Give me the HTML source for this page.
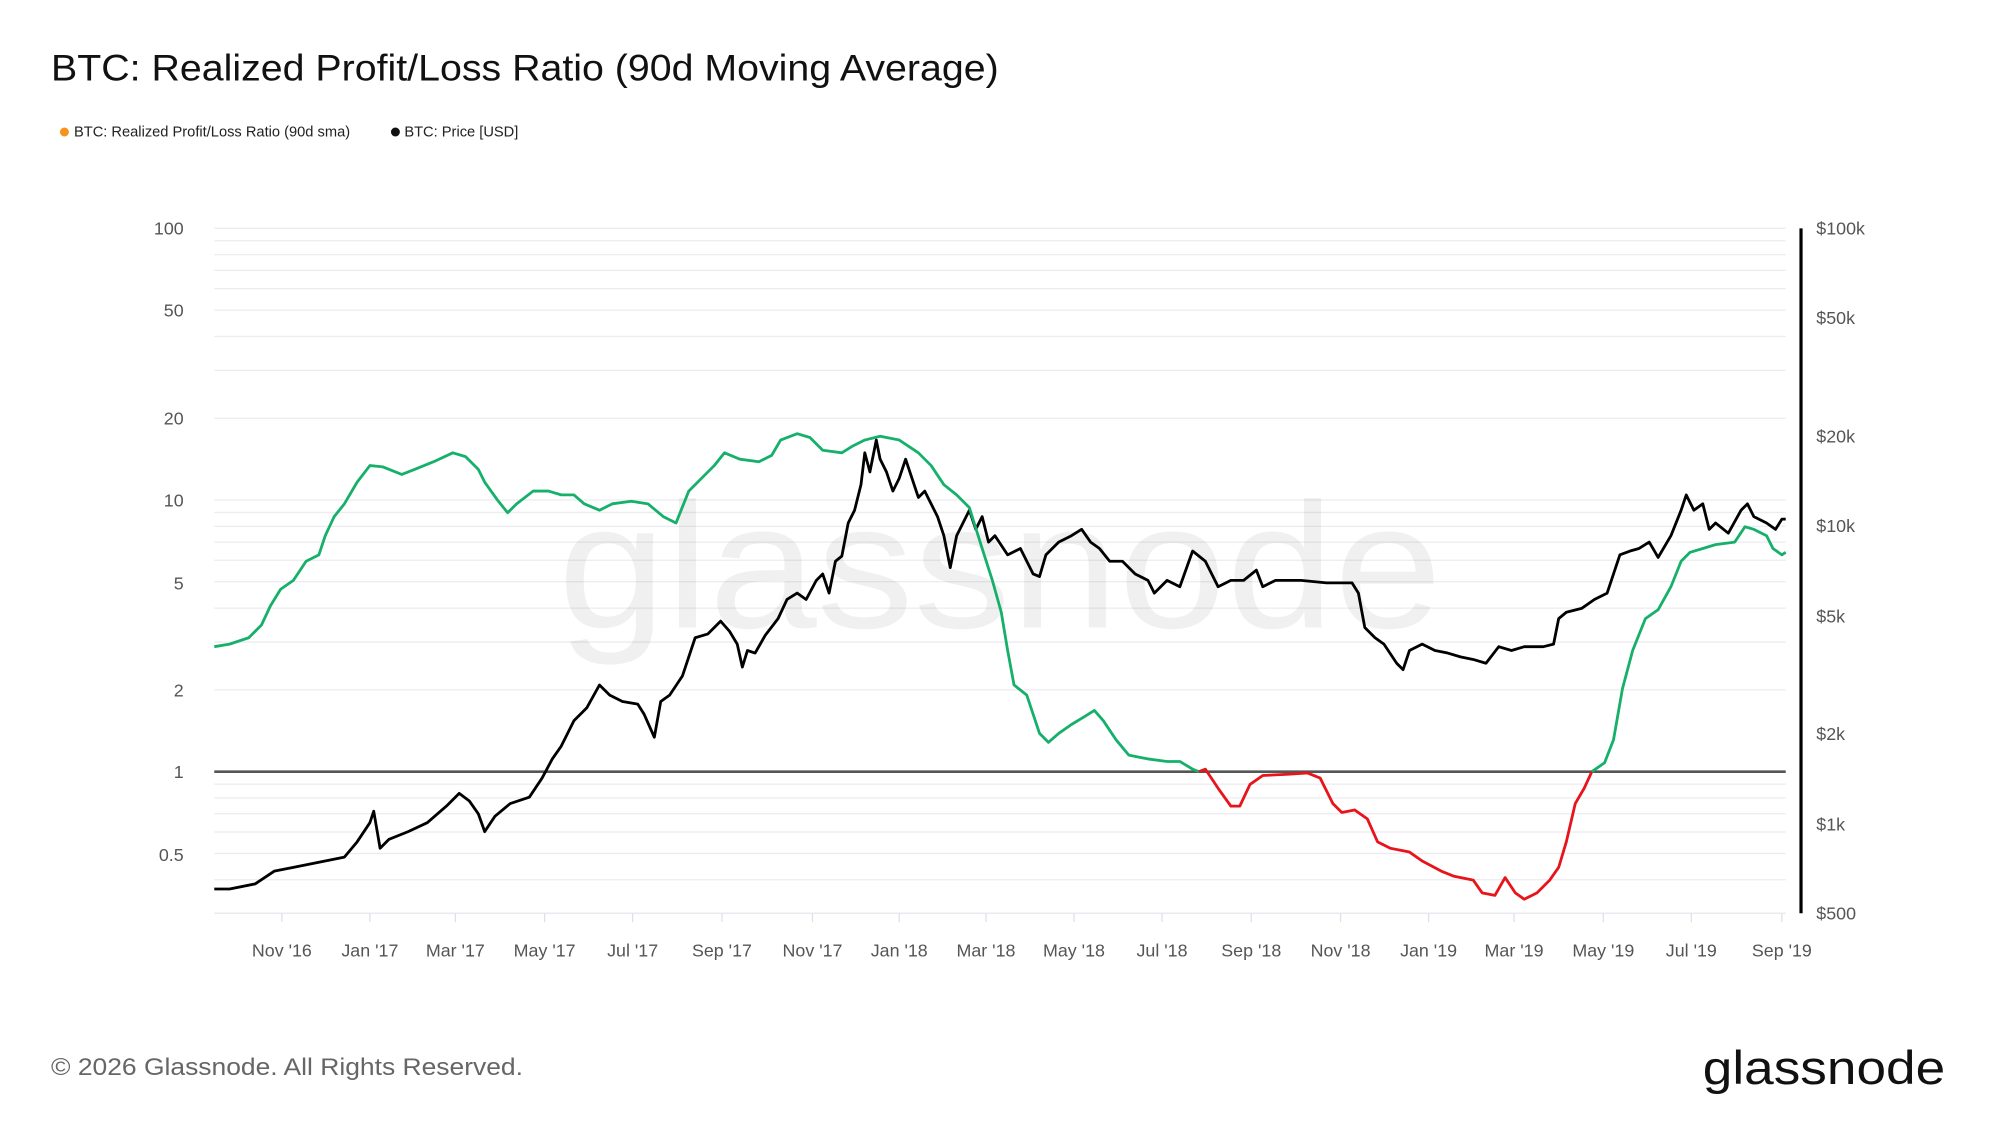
<!DOCTYPE html>
<html><head><meta charset="utf-8"><style>
html,body{margin:0;padding:0;background:#fff;}
svg{display:block;font-family:"Liberation Sans",sans-serif;}
</style></head><body>
<svg id="s" width="2000" height="1125" viewBox="0 0 1568 882" preserveAspectRatio="none" xmlns="http://www.w3.org/2000/svg">
<rect width="1568" height="882" fill="#fff"/>
<g id="grid"></g>
<text x="784" y="492" font-size="140" fill="#000" fill-opacity="0.06" text-anchor="middle" textLength="693" lengthAdjust="spacingAndGlyphs">glassnode</text>
<text x="40" y="63" font-size="29" fill="#111" textLength="743" lengthAdjust="spacingAndGlyphs">BTC: Realized Profit/Loss Ratio (90d Moving Average)</text>
<circle cx="50.5" cy="103.5" r="3.5" fill="#f7931a"/>
<text x="58" y="107" font-size="11.5" fill="#222">BTC: Realized Profit/Loss Ratio (90d sma)</text>
<circle cx="310" cy="103.5" r="3.5" fill="#111"/>
<text x="317" y="107" font-size="11.5" fill="#222">BTC: Price [USD]</text>
<g font-size="14" fill="#555" text-anchor="end">
<text x="144" y="184">100</text><text x="144" y="248">50</text><text x="144" y="333">20</text>
<text x="144" y="397">10</text><text x="144" y="462">5</text><text x="144" y="546">2</text>
<text x="144" y="610">1</text><text x="144" y="675">0.5</text>
</g>
<g font-size="14" fill="#555">
<text x="1424" y="184">$100k</text><text x="1424" y="254">$50k</text><text x="1424" y="347">$20k</text>
<text x="1424" y="417">$10k</text><text x="1424" y="488">$5k</text><text x="1424" y="580">$2k</text>
<text x="1424" y="651">$1k</text><text x="1424" y="721">$500</text>
</g>
<line x1="1412" y1="179" x2="1412" y2="716" stroke="#000" stroke-width="2.5"/>
<line x1="168" y1="716" x2="1400" y2="716" stroke="#e6e6ee" stroke-width="1"/>
<g id="xt" font-size="14" fill="#555" text-anchor="middle"></g>
<line x1="168" y1="605" x2="1400" y2="605" stroke="#555" stroke-width="2"/>
<polyline id="price" fill="none" stroke="#000" stroke-width="2.2" stroke-linejoin="round"/>
<polyline id="g1" fill="none" stroke="#16b06a" stroke-width="2.2" stroke-linejoin="round"/>
<polyline id="r1" fill="none" stroke="#e8141b" stroke-width="2.2" stroke-linejoin="round"/>
<polyline id="g2" fill="none" stroke="#16b06a" stroke-width="2.2" stroke-linejoin="round"/>
<text x="40" y="843" font-size="19" fill="#666" textLength="370" lengthAdjust="spacingAndGlyphs">© 2026 Glassnode. All Rights Reserved.</text>
<text x="1525" y="850" font-size="37" fill="#111" text-anchor="end" textLength="190" lengthAdjust="spacingAndGlyphs">glassnode</text>
</svg>
<script>
var NS="http://www.w3.org/2000/svg";
var grid=document.getElementById('grid');
function ly(v){return 605-213*Math.log10(v);}
for(var d=-1;d<2;d++){for(var m=1;m<10;m++){var v=m*Math.pow(10,d);var y=ly(v);if(y>716||y<179)continue;
var l=document.createElementNS(NS,'line');l.setAttribute('x1',168);l.setAttribute('x2',1400);l.setAttribute('y1',y);l.setAttribute('y2',y);l.setAttribute('stroke','#ececf0');l.setAttribute('stroke-width','1');grid.appendChild(l);}}
var l=document.createElementNS(NS,'line');l.setAttribute('x1',168);l.setAttribute('x2',1400);l.setAttribute('y1',179);l.setAttribute('y2',179);l.setAttribute('stroke','#ececf0');grid.appendChild(l);
var xt=[["Nov '16",221],["Jan '17",290],["Mar '17",357],["May '17",427],["Jul '17",496],["Sep '17",566],["Nov '17",637],["Jan '18",705],["Mar '18",773],["May '18",842],["Jul '18",911],["Sep '18",981],["Nov '18",1051],["Jan '19",1120],["Mar '19",1187],["May '19",1257],["Jul '19",1326],["Sep '19",1397]];
var g=document.getElementById('xt');
xt.forEach(function(t){var tx=document.createElementNS(NS,'text');tx.setAttribute('x',t[1]);tx.setAttribute('y',750);tx.textContent=t[0];g.appendChild(tx);
var k=document.createElementNS(NS,'line');k.setAttribute('x1',t[1]);k.setAttribute('x2',t[1]);k.setAttribute('y1',716);k.setAttribute('y2',723);k.setAttribute('stroke','#e0e0e6');g.appendChild(k);});
var price=[168,697,180,697,200,693,215,683,230,680,250,676,270,672,280,660,290,645,293,636,298,665,305,658,320,652,335,645,350,632,360,622,368,628,375,638,380,652,388,640,400,630,415,625,425,610,433,595,440,585,450,565,460,555,470,537,478,545,488,550,500,552,505,560,513,578,518,550,525,545,535,530,545,500,555,497,565,487,572,495,578,505,582,523,586,510,592,512,600,498,610,485,617,470,625,465,632,470,640,455,645,450,650,465,655,440,660,436,665,410,670,400,675,380,678,355,682,370,687,345,690,360,695,370,700,385,705,375,710,360,715,375,720,390,725,385,730,395,735,405,740,420,745,445,750,420,756,408,760,400,765,415,770,405,775,425,780,420,790,435,800,430,810,450,815,452,820,435,830,425,840,420,848,415,855,425,862,430,870,440,880,440,890,450,900,455,905,465,915,455,925,460,935,432,945,440,955,460,965,455,975,455,985,447,990,460,1000,455,1020,455,1040,457,1060,457,1065,465,1070,492,1078,500,1085,505,1095,520,1100,525,1105,510,1115,505,1125,510,1135,512,1145,515,1155,517,1165,520,1175,507,1185,510,1195,507,1210,507,1218,505,1222,485,1228,480,1240,477,1250,470,1260,465,1265,450,1270,435,1278,432,1285,430,1293,425,1300,437,1310,420,1318,400,1322,388,1328,400,1335,395,1340,415,1345,410,1355,418,1365,400,1370,395,1375,405,1385,410,1392,415,1397,407,1400,407];
var g1=[168,507,180,505,195,500,205,490,212,475,220,462,230,455,240,440,250,435,255,420,262,405,270,395,280,378,290,365,300,366,315,372,325,368,340,362,355,355,365,358,375,368,380,378,390,392,398,402,405,395,418,385,430,385,440,388,450,388,458,395,470,400,480,395,495,393,508,395,520,405,530,410,540,385,550,375,560,365,568,355,580,360,595,362,605,357,612,345,625,340,635,343,645,353,660,355,668,350,678,345,690,342,705,345,720,355,730,365,740,380,750,388,760,398,770,430,778,455,785,480,790,510,795,537,805,545,815,575,822,582,830,575,840,568,850,562,858,557,865,565,875,580,885,592,900,595,915,597,925,597,935,603,940,605];
var r1=[940,605,945,603,955,618,965,632,972,632,980,615,990,608,1010,607,1025,606,1035,610,1045,630,1052,637,1062,635,1072,642,1080,660,1090,665,1105,668,1115,675,1130,683,1140,687,1155,690,1162,700,1172,702,1180,688,1188,700,1195,705,1205,700,1215,690,1222,680,1228,660,1235,630,1242,618,1248,605];
var g2=[1248,605,1258,598,1265,580,1272,540,1280,510,1290,485,1300,478,1310,460,1318,440,1325,433,1335,430,1345,427,1360,425,1368,413,1375,415,1385,420,1390,430,1397,435,1400,433];
function pts(a){var s=[];for(var i=0;i<a.length;i+=2)s.push(a[i]+','+a[i+1]);return s.join(' ');}
document.getElementById('price').setAttribute('points',pts(price));
document.getElementById('g1').setAttribute('points',pts(g1));
document.getElementById('r1').setAttribute('points',pts(r1));
document.getElementById('g2').setAttribute('points',pts(g2));
</script>
</body></html>
